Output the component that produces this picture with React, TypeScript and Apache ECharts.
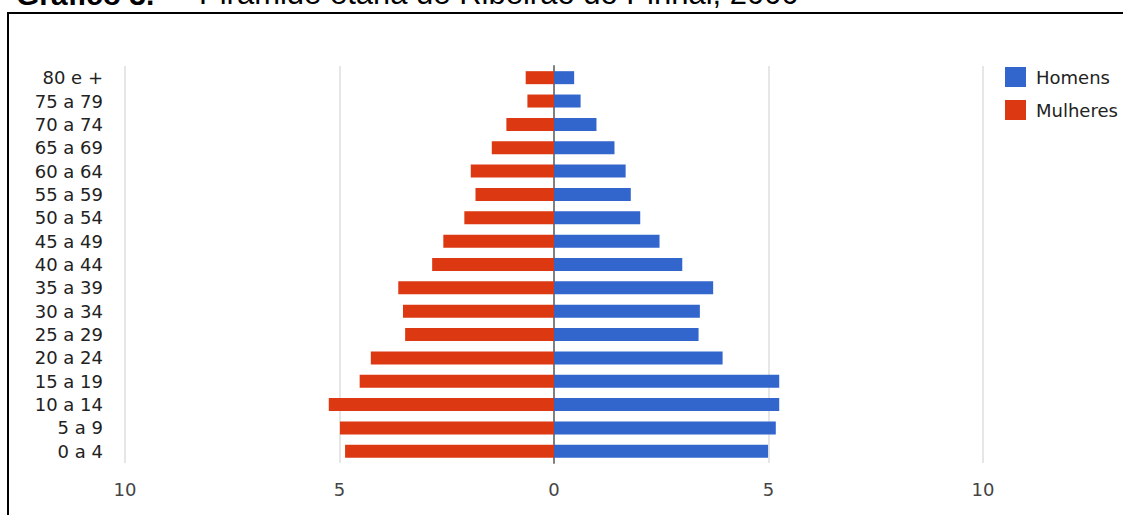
import React, { useEffect, useRef } from "react";
import * as echarts from "echarts";

const categories = [
  "0 a 4", "5 a 9", "10 a 14", "15 a 19", "20 a 24", "25 a 29", "30 a 34", "35 a 39",
  "40 a 44", "45 a 49", "50 a 54", "55 a 59", "60 a 64", "65 a 69", "70 a 74", "75 a 79", "80 e +",
];
const homens = [4.99, 5.17, 5.25, 5.25, 3.93, 3.37, 3.4, 3.71, 2.99, 2.46, 2.01, 1.79, 1.67, 1.41, 0.99, 0.62, 0.47];
const mulheres = [4.87, 4.99, 5.25, 4.53, 4.27, 3.47, 3.52, 3.63, 2.84, 2.58, 2.09, 1.83, 1.94, 1.45, 1.11, 0.62, 0.66];
const seriesNames = ["Homens", "Mulheres"];
const titleBold = "Gráfico 3.";
const titleText = "Pirâmide etária de Ribeirão do Pinhal, 2000";

export default function App() {
  const ref = useRef<HTMLDivElement>(null);
  useEffect(() => {
    if (!ref.current) return;
    const chart = echarts.init(ref.current, null, { renderer: "svg" });
    const labelFont = "DejaVu Sans";
    chart.setOption({
      animation: false,
      backgroundColor: "#ffffff",
      grid: { left: 125, right: 140, top: 66, bottom: 52, containLabel: false },
      legend: {
        data: seriesNames,
        orient: "vertical",
        left: 1005,
        top: 67,
        padding: 0,
        itemWidth: 21,
        itemHeight: 20,
        itemGap: 13,
        icon: "rect",
        selectedMode: false,
        textStyle: { fontFamily: labelFont, fontSize: 18, color: "#222222", padding: [0, 0, 0, 5] },
      },
      xAxis: {
        type: "value",
        min: -10,
        max: 10,
        interval: 5,
        axisLine: { show: false },
        axisTick: { show: false },
        splitLine: { show: true, lineStyle: { color: "#e6e6e6", width: 2 } },
        axisLabel: {
          formatter: (v: number) => String(Math.abs(v)),
          fontFamily: labelFont,
          fontSize: 18,
          color: "#444444",
          margin: 17,
        },
      },
      yAxis: {
        type: "category",
        data: categories,
        axisLine: { show: true, onZero: true, lineStyle: { color: "#808080", width: 2 } },
        axisTick: { show: false },
        axisLabel: {
          interval: 0,
          fontFamily: labelFont,
          fontSize: 18,
          color: "#222222",
          margin: 22,
        },
        splitLine: { show: false },
      },
      series: [
        {
          name: seriesNames[0],
          type: "bar",
          stack: "pop",
          barWidth: 13,
          itemStyle: { color: "#3366cc" },
          data: homens,
        },
        {
          name: seriesNames[1],
          type: "bar",
          stack: "pop",
          barWidth: 13,
          itemStyle: { color: "#dc3912" },
          data: mulheres.map((v) => -v),
        },
      ],
      graphic: [
        {
          type: "text",
          left: 16,
          top: -21,
          style: {
            text: titleBold,
            font: "bold 30px 'Liberation Sans', Arial, sans-serif",
            fill: "#000000",
          },
          z: 10,
        },
        {
          type: "text",
          left: 199,
          top: -22,
          style: {
            text: titleText,
            font: "31px 'Liberation Sans', Arial, sans-serif",
            fill: "#000000",
          },
          z: 10,
        },
        {
          type: "rect",
          shape: { x: 8, y: 13, width: 2000, height: 1000 },
          style: { fill: "none", stroke: "#000000", lineWidth: 2 },
          z: 11,
        },
      ],
    });
    return () => chart.dispose();
  }, []);
  return (
    <div
      ref={ref}
      style={{ position: "absolute", left: 0, top: 0, width: 1123, height: 515 }}
    />
  );
}
